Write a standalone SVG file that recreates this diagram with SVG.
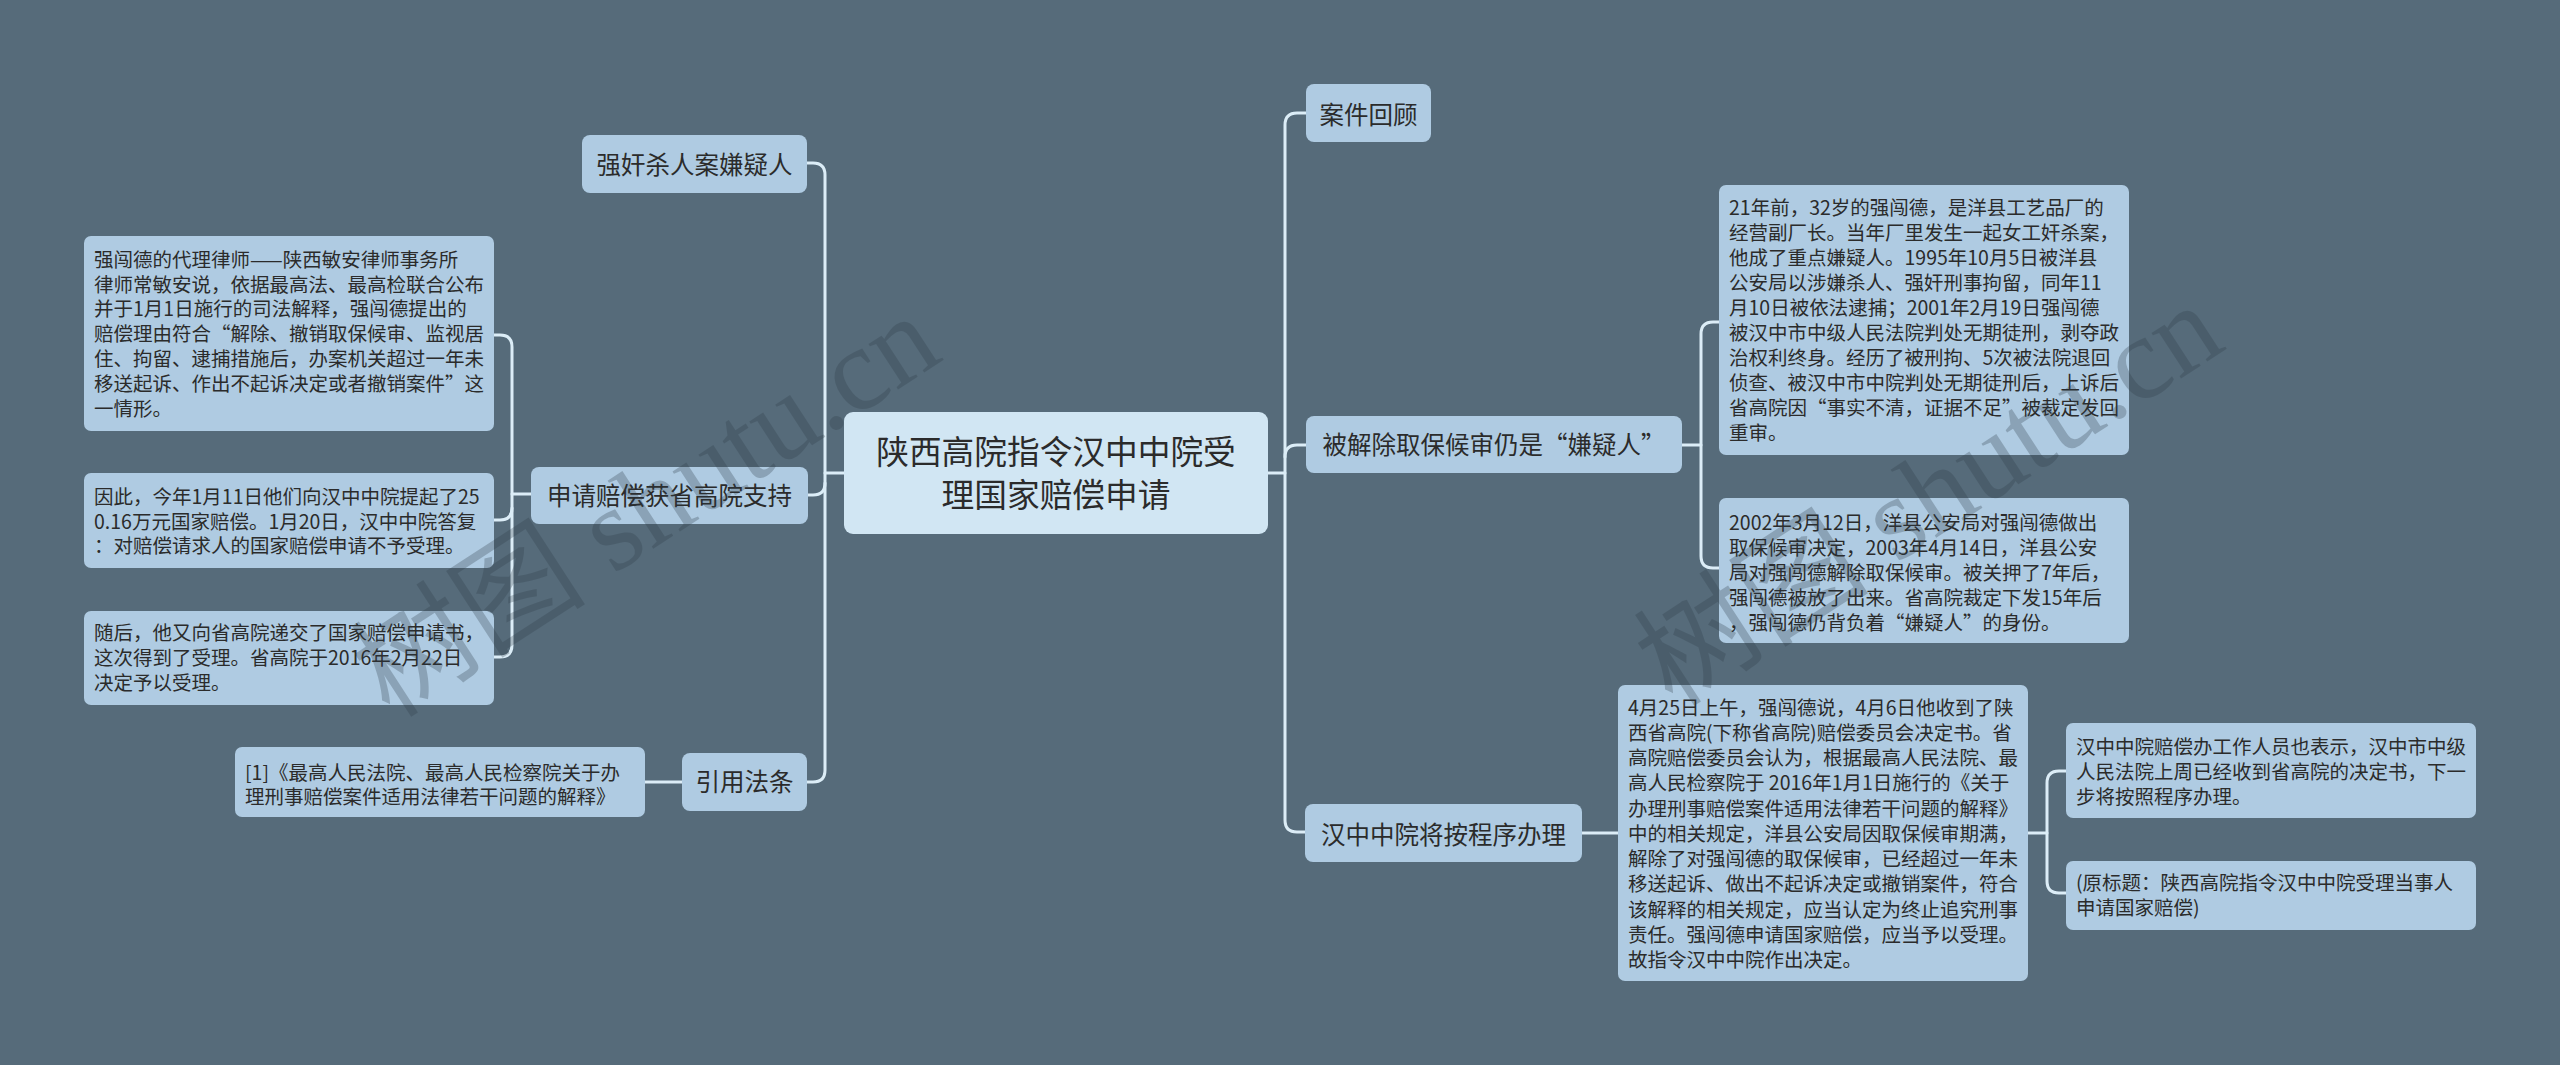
<svg xmlns="http://www.w3.org/2000/svg" width="2560" height="1065" viewBox="0 0 2560 1065">
<defs>
<style>
.bg{fill:#566b7a}
.nd{fill:#afcbe2}
.ct{fill:#d1e6f3}
.ln{fill:none;stroke:#dcedf7;stroke-width:3;stroke-linecap:round}
text{font-family:"Noto Sans CJK SC","Noto Sans",sans-serif;fill:#2b2b2b}
.t1{font-size:19.5px}
.t2{font-size:24.5px}
.t3{font-size:32.7px}
.wm{font-family:"Liberation Serif","Noto Sans CJK SC",serif;font-size:118px;fill:#2e3c47;opacity:0.28}
</style>
</defs>
<rect class="bg" x="0" y="0" width="2560" height="1065"/>

<g id="connectors">
<path class="ln" d="M844,473 H825"/>
<path class="ln" d="M807,163 H813 Q825,163 825,175 V770 Q825,782 813,782 H807"/>
<path class="ln" d="M807,495 H813 Q825,495 825,483"/>
<path class="ln" d="M494,335 H500 Q512,335 512,347 V645 Q512,657 500,657 H494"/>
<path class="ln" d="M494,520 H500 Q512,520 512,508"/>
<path class="ln" d="M531,494 H512"/>
<path class="ln" d="M682,782 H645"/>
<path class="ln" d="M1268,473 H1285"/>
<path class="ln" d="M1306,113 H1297 Q1285,113 1285,125 V820 Q1285,832 1297,832 H1305"/>
<path class="ln" d="M1306,445 H1297 Q1285,445 1285,457"/>
<path class="ln" d="M1719,322 H1713 Q1701,322 1701,334 V556 Q1701,568 1713,568 H1719"/>
<path class="ln" d="M1682,445 H1701"/>
<path class="ln" d="M1582,833 H1618"/>
<path class="ln" d="M2066,771 H2059 Q2047,771 2047,783 V881 Q2047,893 2059,893 H2066"/>
<path class="ln" d="M2028,833 H2047"/>
</g>

<g id="center">
<rect class="ct" x="844" y="412" width="424" height="122" rx="9"/>
<text class="t3" x="1056" y="464" text-anchor="middle">陕西高院指令汉中中院受</text>
<text class="t3" x="1056" y="507" text-anchor="middle">理国家赔偿申请</text>
</g>

<g id="n-qiangjian">
<rect class="nd" x="582" y="135" width="225" height="58" rx="8"/>
<text class="t2" x="694.5" y="174" text-anchor="middle">强奸杀人案嫌疑人</text>
</g>

<g id="n-shenqing">
<rect class="nd" x="531" y="467" width="277" height="57" rx="8"/>
<text class="t2" x="669.5" y="505" text-anchor="middle">申请赔偿获省高院支持</text>
</g>

<g id="n-yinyong">
<rect class="nd" x="682" y="753" width="125" height="58" rx="8"/>
<text class="t2" x="744.5" y="791" text-anchor="middle">引用法条</text>
</g>

<g id="n-anjian">
<rect class="nd" x="1306" y="84" width="125" height="58" rx="8"/>
<text class="t2" x="1368.5" y="124" text-anchor="middle">案件回顾</text>
</g>

<g id="n-beijiechu">
<rect class="nd" x="1306" y="416" width="376" height="57" rx="8"/>
<text class="t2" x="1494" y="454" text-anchor="middle">被解除取保候审仍是“嫌疑人”</text>
</g>

<g id="n-hanzhong">
<rect class="nd" x="1305" y="804" width="277" height="58" rx="8"/>
<text class="t2" x="1443.5" y="844" text-anchor="middle">汉中中院将按程序办理</text>
</g>

<g id="box-a">
<rect class="nd" x="84" y="236" width="410" height="195" rx="7"/>
<text class="t1" x="94" y="267">强闯德的代理律师——陕西敏安律师事务所</text>
<text class="t1" x="94" y="292">律师常敏安说，依据最高法、最高检联合公布</text>
<text class="t1" x="94" y="316">并于1月1日施行的司法解释，强闯德提出的</text>
<text class="t1" x="94" y="341">赔偿理由符合“解除、撤销取保候审、监视居</text>
<text class="t1" x="94" y="366">住、拘留、逮捕措施后，办案机关超过一年未</text>
<text class="t1" x="94" y="391">移送起诉、作出不起诉决定或者撤销案件”这</text>
<text class="t1" x="94" y="416">一情形。</text>
</g>

<g id="box-b">
<rect class="nd" x="84" y="473" width="410" height="95" rx="7"/>
<text class="t1" x="94" y="504">因此，今年1月11日他们向汉中中院提起了25</text>
<text class="t1" x="94" y="529">0.16万元国家赔偿。1月20日，汉中中院答复</text>
<text class="t1" x="94" y="553">：对赔偿请求人的国家赔偿申请不予受理。</text>
</g>

<g id="box-c">
<rect class="nd" x="84" y="611" width="410" height="94" rx="7"/>
<text class="t1" x="94" y="640">随后，他又向省高院递交了国家赔偿申请书，</text>
<text class="t1" x="94" y="665">这次得到了受理。省高院于2016年2月22日</text>
<text class="t1" x="94" y="690">决定予以受理。</text>
</g>

<g id="box-d">
<rect class="nd" x="235" y="747" width="410" height="70" rx="7"/>
<text class="t1" x="245" y="780">[1]《最高人民法院、最高人民检察院关于办</text>
<text class="t1" x="245" y="804">理刑事赔偿案件适用法律若干问题的解释》</text>
</g>

<g id="box-e">
<rect class="nd" x="1719" y="185" width="410" height="270" rx="7"/>
<text class="t1" x="1729" y="215">21年前，32岁的强闯德，是洋县工艺品厂的</text>
<text class="t1" x="1729" y="240">经营副厂长。当年厂里发生一起女工奸杀案，</text>
<text class="t1" x="1729" y="265">他成了重点嫌疑人。1995年10月5日被洋县</text>
<text class="t1" x="1729" y="290">公安局以涉嫌杀人、强奸刑事拘留，同年11</text>
<text class="t1" x="1729" y="315">月10日被依法逮捕；2001年2月19日强闯德</text>
<text class="t1" x="1729" y="340">被汉中市中级人民法院判处无期徒刑，剥夺政</text>
<text class="t1" x="1729" y="365">治权利终身。经历了被刑拘、5次被法院退回</text>
<text class="t1" x="1729" y="390">侦查、被汉中市中院判处无期徒刑后，上诉后</text>
<text class="t1" x="1729" y="415">省高院因“事实不清，证据不足”被裁定发回</text>
<text class="t1" x="1729" y="440">重审。</text>
</g>

<g id="box-f">
<rect class="nd" x="1719" y="498" width="410" height="145" rx="7"/>
<text class="t1" x="1729" y="530">2002年3月12日，洋县公安局对强闯德做出</text>
<text class="t1" x="1729" y="555">取保候审决定，2003年4月14日，洋县公安</text>
<text class="t1" x="1729" y="580">局对强闯德解除取保候审。被关押了7年后，</text>
<text class="t1" x="1729" y="605">强闯德被放了出来。省高院裁定下发15年后</text>
<text class="t1" x="1729" y="630">，强闯德仍背负着“嫌疑人”的身份。</text>
</g>

<g id="box-g">
<rect class="nd" x="1618" y="685" width="410" height="296" rx="7"/>
<text class="t1" x="1628" y="715">4月25日上午，强闯德说，4月6日他收到了陕</text>
<text class="t1" x="1628" y="740">西省高院(下称省高院)赔偿委员会决定书。省</text>
<text class="t1" x="1628" y="765">高院赔偿委员会认为，根据最高人民法院、最</text>
<text class="t1" x="1628" y="790">高人民检察院于 2016年1月1日施行的《关于</text>
<text class="t1" x="1628" y="816">办理刑事赔偿案件适用法律若干问题的解释》</text>
<text class="t1" x="1628" y="841">中的相关规定，洋县公安局因取保候审期满，</text>
<text class="t1" x="1628" y="866">解除了对强闯德的取保候审，已经超过一年未</text>
<text class="t1" x="1628" y="891">移送起诉、做出不起诉决定或撤销案件，符合</text>
<text class="t1" x="1628" y="917">该解释的相关规定，应当认定为终止追究刑事</text>
<text class="t1" x="1628" y="942">责任。强闯德申请国家赔偿，应当予以受理。</text>
<text class="t1" x="1628" y="967">故指令汉中中院作出决定。</text>
</g>

<g id="box-h">
<rect class="nd" x="2066" y="723" width="410" height="95" rx="7"/>
<text class="t1" x="2076" y="754">汉中中院赔偿办工作人员也表示，汉中市中级</text>
<text class="t1" x="2076" y="779">人民法院上周已经收到省高院的决定书，下一</text>
<text class="t1" x="2076" y="804">步将按照程序办理。</text>
</g>

<g id="box-i">
<rect class="nd" x="2066" y="861" width="410" height="69" rx="7"/>
<text class="t1" x="2076" y="890">(原标题：陕西高院指令汉中中院受理当事人</text>
<text class="t1" x="2076" y="915">申请国家赔偿)</text>
</g>

<g id="watermarks">
<text class="wm" x="648" y="545" text-anchor="middle" transform="rotate(-33 648 509)">树图 shutu.cn</text>
<text class="wm" x="1931" y="534" text-anchor="middle" transform="rotate(-33 1931 498)">树图 shutu.cn</text>
</g>
</svg>
